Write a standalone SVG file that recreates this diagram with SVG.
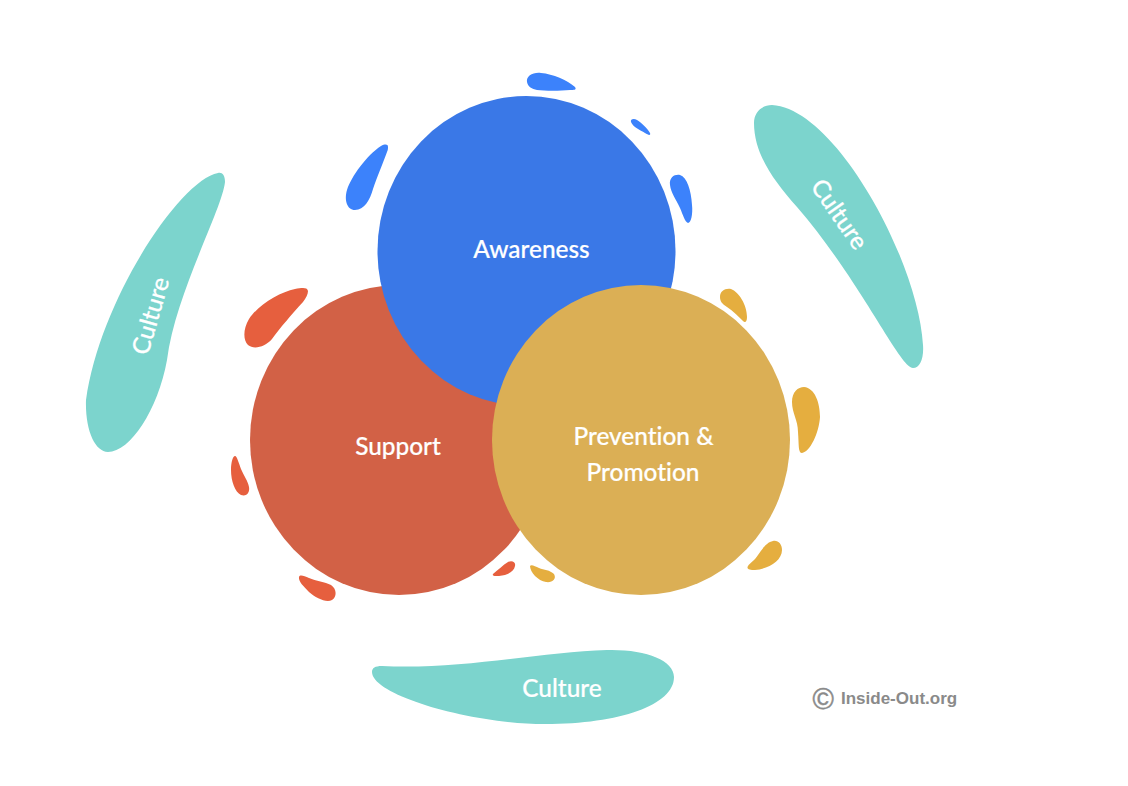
<svg xmlns="http://www.w3.org/2000/svg" width="1128" height="786" viewBox="0 0 1128 786">
<style>
.lbl{font-family:"Lato","Liberation Sans",sans-serif;font-size:24.4px;font-weight:500;fill:#fff;stroke:#fff;stroke-width:.2;text-anchor:middle;font-variant-ligatures:none}
.teal{fill:#7cd4cd}.b{fill:#3c82fb}.r{fill:#e65f3e}.y{fill:#e5ae3f}
</style>
<rect width="1128" height="786" fill="#fff"/>
<g id="culture-left"><path class="teal" d="M218 173C180 180 100 300 86 400C85 430 95 452 108 452C130 452 158 410 167 360C175 295 222 210 225 182C225 175 222 172 218 173Z"/><text class="lbl" transform="translate(151 316) rotate(-74)" y="8">Culture</text></g>
<g id="culture-right"><path class="teal" d="M754 123C754 112 762 105 772 105C835 108 918 260 923 345C924 358 920 368 913 368C900 368 860 280 797 207C775 182 754 155 754 123Z"/><text class="lbl" transform="translate(839 214.500) rotate(55)" y="8">Culture</text></g>
<g id="culture-bottom"><path class="teal" d="M372 672C372 668 375 666 382 666C460 670 540 652 607 650C645 649 674 660 674 677C674 705 620 724 545 724C470 724 372 695 372 672Z"/><text class="lbl" x="562" y="697">Culture</text></g>
<g id="support"><ellipse cx="399" cy="440" rx="149" ry="155" fill="#d26146"/><text class="lbl" x="398" y="455">Support</text></g>
<g id="awareness"><ellipse cx="526.500" cy="251" rx="149" ry="155" fill="#3a78e7"/><text class="lbl" x="531.500" y="258">Awareness</text></g>
<g id="prevention"><ellipse cx="641" cy="440" rx="149" ry="155" fill="#dbaf55"/><text class="lbl" x="643.500" y="445">Prevention &amp;</text><text class="lbl" x="643" y="481">Promotion</text></g>
<g id="drops-blue">
<path class="b" d="M527 82C526 76 533 72 541 73C553 74 567 80 575 87C577 90 574 90 570 90C560 91 545 91 537 90C532 89 528 87 527 82Z"/>
<path class="b" d="M631 122C630 119 634 118 637 120C642 123 648 129 650 133C651 136 648 135 645 133C640 130 633 127 631 122Z"/>
<path class="b" d="M670 185C669 177 675 174 680 175C687 177 691 190 692 205C693 214 691 223 688 223C685 222 683 215 680 208C676 199 671 193 670 185Z"/>
<path class="b" d="M388 147C388 144 385 144 381 146C367 155 351 177 347 190C344 200 347 210 355 210C364 210 370 200 373 189C377 177 383 163 387 152C388 150 388 148 388 147Z"/>
</g>
<g id="drops-red">
<path class="r" d="M308 291C307 287 302 288 295 289C280 292 258 305 249 319C243 329 243 340 248 345C254 350 265 347 272 339C280 328 292 314 303 302C306 298 308 294 308 291Z"/>
<path class="r" d="M235 456C233 456 231 462 231 470C231 481 235 492 241 495C247 497 250 492 249 487C248 481 244 476 241 469C239 464 237 456 235 456Z"/>
<path class="r" d="M299 577C300 574 304 576 309 578C316 581 325 582 331 585C337 589 337 597 332 600C326 603 316 598 309 592C304 587 298 581 299 577Z"/>
<path class="r" d="M515 566C516 562 512 560 508 562C503 565 498 570 493 574C492 576 495 576 499 576C507 575 514 572 515 566Z"/>
</g>
<g id="drops-yellow">
<path class="y" d="M720 297C720 291 725 288 731 289C739 292 747 305 747 317C747 322 745 323 743 321C739 317 733 311 727 307C722 304 720 301 720 297Z"/>
<path class="y" d="M792 402C792 392 798 387 804 387C815 388 820 403 820 417C819 433 810 452 802 453C798 453 799 445 798 432C798 420 792 413 792 402Z"/>
<path class="y" d="M782 550C782 544 778 540 773 541C767 542 762 549 758 555C755 560 750 563 748 566C746 569 750 570 755 570C768 569 782 561 782 550Z"/>
<path class="y" d="M530 566C531 564 535 566 539 568C544 570 550 570 554 574C557 579 552 583 546 582C538 581 530 572 530 566Z"/>
</g>
<g id="credit" fill="#8a8a8a" font-family="'Liberation Sans',Arial,sans-serif"><text x="812.500" y="709" font-size="29" stroke="#8a8a8a" stroke-width=".5">©</text><text x="841" y="704" font-size="17" font-weight="700">Inside-Out.org</text></g>
</svg>
